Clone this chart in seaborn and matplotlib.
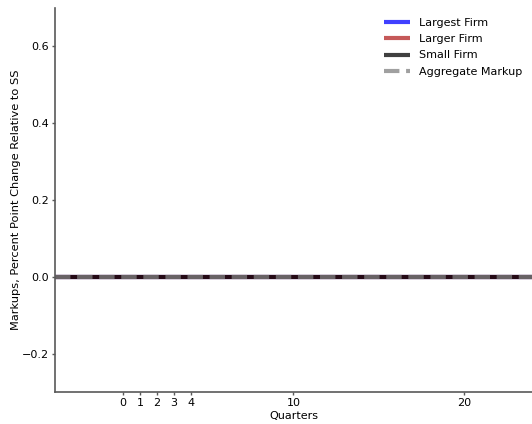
import numpy as np
import pandas as pd
import matplotlib
matplotlib.use("Agg")
import matplotlib.pyplot as plt
import seaborn as sns

# quarters relative to the shock, values are % point change vs steady state
quarters = list(range(-4, 25))
largest_firm = [0.0] * len(quarters)
larger_firm = [0.0] * len(quarters)
small_firm = [0.0] * len(quarters)
aggregate_markup = [0.0] * len(quarters)

xticks = [0, 1, 2, 3, 4, 10, 20]

sns.set_style("ticks", {"axes.edgecolor": ".35", "xtick.color": ".35",
                        "ytick.color": ".35", "text.color": "black",
                        "axes.labelcolor": "black"})
plt.rcParams['font.family'] = ['DejaVu Sans']
plt.rcParams['xtick.labelcolor'] = 'black'
plt.rcParams['ytick.labelcolor'] = 'black'

fig, ax = plt.subplots(figsize=(5.32, 4.24), dpi=100)

series = [
    ("Largest Firm", largest_firm, "blue", "-"),
    ("Larger Firm", larger_firm, "firebrick", "-"),
    ("Small Firm", small_firm, "black", "-"),
    ("Aggregate Markup", aggregate_markup, "grey", "--"),
]
for name, vals, col, ls in series:
    df = pd.DataFrame({"q": quarters, "v": vals})
    sns.lineplot(data=df, x="q", y="v", ax=ax, color=col, linestyle=ls,
                 linewidth=3, alpha=0.75, label=name,
                 solid_capstyle="butt", dash_capstyle="butt")

ax.set_xlim(-4, 24)
ax.set_ylim(-0.3, 0.7)
ax.set_xticks(xticks)
ax.set_yticks([-0.2, 0.0, 0.2, 0.4, 0.6])
ax.set_xlabel("Quarters", fontsize=8, labelpad=2)
ax.set_ylabel("Markups, Percent Point Change Relative to SS", fontsize=8.2,
              labelpad=1)
ax.tick_params(labelsize=8, length=2.5, width=1, pad=1.5)
for s in ax.spines.values():
    s.set_linewidth(1.2)
sns.despine(ax=ax)
ax.legend(frameon=False, loc="upper right", fontsize=8, handlelength=2.4,
          borderaxespad=0.45, labelspacing=0.58)

fig.subplots_adjust(left=0.103, right=1.0, top=0.981, bottom=0.075)
fig.savefig("out.png", dpi=100)
